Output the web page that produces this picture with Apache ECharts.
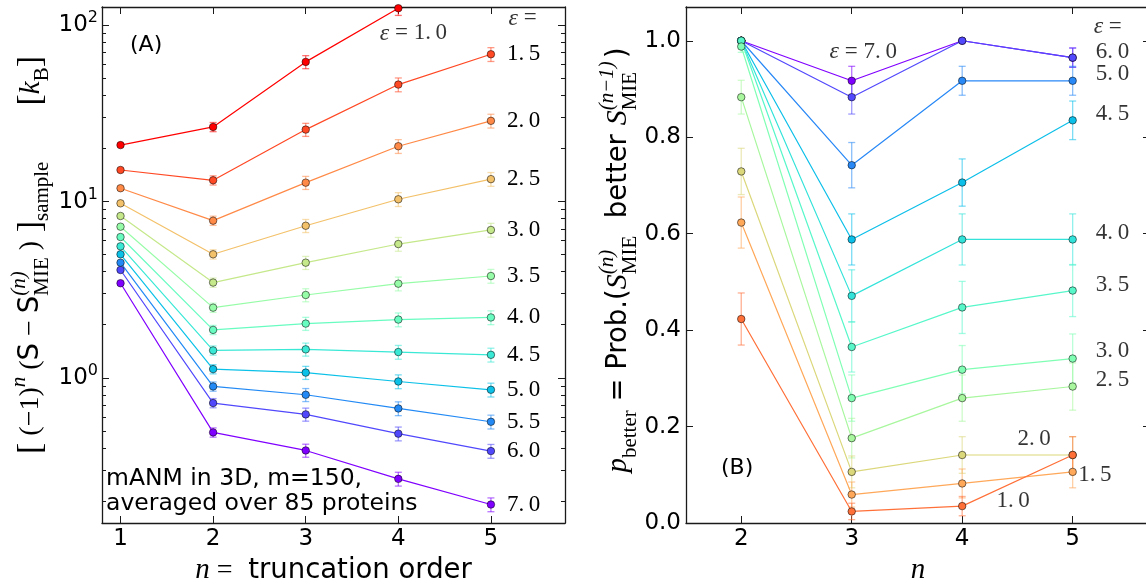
<!DOCTYPE html>
<html>
<head>
<meta charset="utf-8">
<title>mANM truncation order</title>
<script src="https://cdn.jsdelivr.net/npm/echarts@6.0.0/dist/echarts.min.js"></script>
<style>
    html, body { margin: 0; padding: 0; background: #fff; }
    #chart { width: 1146px; height: 586px; }
</style>
</head>
<body>
<div id="chart"></div>
<script>
// ---- (A) truncation order n, entropy difference in k_B (log axis)
var nA = [1, 2, 3, 4, 5];
var epsA = ['7.0', '6.0', '5.5', '5.0', '4.5', '4.0', '3.5', '3.0', '2.5', '2.0', '1.5', '1.0'];
var diffA_70 = [3.44, 0.490, 0.387, 0.267, 0.191];
var diffA_60 = [4.09, 0.719, 0.620, 0.482, 0.384];
var diffA_55 = [4.50, 0.893, 0.801, 0.670, 0.563];
var diffA_50 = [5.02, 1.12, 1.07, 0.953, 0.855];
var diffA_45 = [5.57, 1.43, 1.45, 1.40, 1.35];
var diffA_40 = [6.29, 1.87, 2.03, 2.14, 2.20];
var diffA_35 = [7.20, 2.50, 2.95, 3.42, 3.78];
var diffA_30 = [8.28, 3.47, 4.50, 5.74, 6.90];
var diffA_25 = [9.77, 5.02, 7.29, 10.3, 13.4];
var diffA_20 = [11.9, 7.79, 12.8, 20.6, 28.7];
var diffA_15 = [15.1, 13.2, 25.6, 46.1, 68.5];
var diffA_10 = [20.9, 26.5, 62.0, 125];
// relative error bar half-width for each n
var relErrA = [0.01, 0.06, 0.085, 0.09, 0.09];
var yTicksA = [1, 10, 100];

// ---- (B) probability that order n beats order n-1
var nB = [2, 3, 4, 5];
var epsB = ['7.0', '6.0', '5.0', '4.5', '4.0', '3.5', '3.0', '2.5', '2.0', '1.5', '1.0'];
var probB_70 = [1.0, 0.917, 1.0, 0.965];
var probB_60 = [1.0, 0.883, 1.0, 0.965];
var probB_50 = [1.0, 0.742, 0.917, 0.917];
var probB_45 = [1.0, 0.588, 0.706, 0.835];
var probB_40 = [1.0, 0.471, 0.588, 0.588];
var probB_35 = [1.0, 0.365, 0.447, 0.482];
var probB_30 = [0.988, 0.259, 0.318, 0.341];
var probB_25 = [0.883, 0.176, 0.259, 0.283];
var probB_20 = [0.729, 0.106, 0.141, 0.141];
var probB_15 = [0.623, 0.059, 0.082, 0.106];
var probB_10 = [0.423, 0.024, 0.035, 0.141];
var errB_70 = [0, 0.030, 0, 0.020];
var errB_60 = [0, 0.035, 0, 0.020];
var errB_50 = [0, 0.047, 0.030, 0.030];
var errB_45 = [0, 0.053, 0.049, 0.040];
var errB_40 = [0, 0.054, 0.053, 0.053];
var errB_35 = [0, 0.052, 0.054, 0.054];
var errB_30 = [0.012, 0.048, 0.050, 0.051];
var errB_25 = [0.035, 0.041, 0.048, 0.049];
var errB_20 = [0.048, 0.033, 0.038, 0.038];
var errB_15 = [0.053, 0.026, 0.030, 0.033];
var errB_10 = [0.054, 0.017, 0.020, 0.038];
var yTicksB = [0, 0.2, 0.4, 0.6, 0.8, 1.0];

var listA = [diffA_70, diffA_60, diffA_55, diffA_50, diffA_45, diffA_40, diffA_35, diffA_30, diffA_25, diffA_20, diffA_15, diffA_10];
var listB = [probB_70, probB_60, probB_50, probB_45, probB_40, probB_35, probB_30, probB_25, probB_20, probB_15, probB_10];
var listErrB = [errB_70, errB_60, errB_50, errB_45, errB_40, errB_35, errB_30, errB_25, errB_20, errB_15, errB_10];

// rainbow colours
var colorsA = ['#8000ff', '#5148fc', '#238af5', '#0cc1e8', '#3ae8d6', '#68fcc1', '#97fca7', '#c5e88a', '#f3c16a', '#ff8a48', '#ff4824', '#ff0000'];
var colorsB = ['#8000ff', '#5248fc', '#2888f6', '#0cbfe9', '#33e3da', '#57f7ca', '#80ffb4', '#a8f79e', '#dbd77b', '#ffa85a', '#ff7039'];

var SERIF = 'Liberation Serif';
var SANS = 'DejaVu Sans';
var INK = '#1a1a1a';

function dotted(s) {
    return s.replace('.', '.\u2009');
}

// text notes: [x, y, text]
var notesA = [
    [3.80, 90.2, '{e|ε}{r| = 1.\u20090}'],
    [5.19, 109.6, '{e|ε}{r| =}']
];
var notesB = [
    [2.80, 0.977, '{e|ε}{r| = 7.\u20090}'],
    [5.19, 1.029, '{e|ε}{r| =}'],
    [5.21, 0.977, '{r|' + dotted('6.0') + '}'],
    [5.21, 0.932, '{r|' + dotted('5.0') + '}'],
    [5.21, 0.849, '{r|' + dotted('4.5') + '}'],
    [5.21, 0.602, '{r|' + dotted('4.0') + '}'],
    [5.21, 0.494, '{r|' + dotted('3.5') + '}'],
    [5.21, 0.356, '{r|' + dotted('3.0') + '}'],
    [5.21, 0.296, '{r|' + dotted('2.5') + '}'],
    [4.50, 0.175, '{r|' + dotted('2.0') + '}'],
    [5.05, 0.100, '{r|' + dotted('1.5') + '}'],
    [4.31, 0.045, '{r|' + dotted('1.0') + '}']
];

var minorA = [];
[0.1, 1, 10].forEach(function (d) {
    for (var k = 2; k <= 9; k++) {
        minorA.push(+(k * d).toFixed(3));
    }
});

var noteRich = {
    e: { fontFamily: SERIF, fontStyle: 'italic', fontSize: 24, color: '#000' },
    r: { fontFamily: SERIF, fontSize: 23, color: '#000' }
};

var LH = 44;
var titleRich = {
    r: { fontFamily: SERIF, fontSize: 28, lineHeight: LH, align: 'left', color: '#000' },
    i: { fontFamily: SERIF, fontStyle: 'italic', fontSize: 29, lineHeight: LH, align: 'left', color: '#000' },
    is: { fontFamily: SERIF, fontStyle: 'italic', fontSize: 30, lineHeight: LH, align: 'left', color: '#000' },
    sf: { fontFamily: SANS, fontSize: 27.5, lineHeight: LH, align: 'left', color: '#000' },
    sfs: { fontFamily: SANS, fontSize: 28, lineHeight: LH, align: 'left', color: '#000' },
    br: { fontFamily: SERIF, fontSize: 34, lineHeight: LH, align: 'left', color: '#000' },
    sup: { fontFamily: SERIF, fontStyle: 'italic', fontSize: 21, lineHeight: 21, verticalAlign: 'top', align: 'left', color: '#000' },
    supz: { fontFamily: SERIF, fontStyle: 'italic', fontSize: 21, lineHeight: 21, verticalAlign: 'top', align: 'left', width: 0, color: '#000' },
    sub: { fontFamily: SERIF, fontSize: 21, lineHeight: 21, verticalAlign: 'bottom', align: 'left', color: '#000' },
    subw: { fontFamily: SERIF, fontSize: 21, lineHeight: 21, verticalAlign: 'bottom', align: 'left', width: 52, color: '#000' },
    gap: { fontSize: 10, lineHeight: LH, width: 56, align: 'left' }
};

function frameAxis(grid, pos, type, min, max, ticks, len, line) {
    return {
        gridIndex: grid,
        position: pos,
        type: type,
        min: min,
        max: max,
        logBase: 10,
        splitLine: { show: false },
        axisLine: { show: line, onZero: false, lineStyle: { color: INK, width: 1.3 } },
        axisTick: { show: true, inside: true, length: len, customValues: ticks, lineStyle: { color: INK, width: 1 } },
        axisLabel: { show: false },
        axisPointer: { show: false }
    };
}

// (A) axes
var xA = frameAxis(0, 'bottom', 'value', 0.8, 5.8, nA, 7, true);
xA.axisLabel = { show: true, customValues: nA, margin: 5, fontFamily: SANS, fontSize: 23, color: '#000' };
xA.name = '{i|n}{r| = }{sf| truncation order}';
xA.nameLocation = 'middle';
xA.nameGap = 25;
xA.nameTextStyle = { rich: titleRich };

var yA = frameAxis(0, 'left', 'log', 0.15, 127, yTicksA, 7, true);
yA.axisLabel = {
    show: true, customValues: yTicksA, margin: 4,
    formatter: function (v) {
        return '{b|10}{s|' + Math.round(Math.log(v) / Math.LN10) + '}';
    },
    rich: {
        b: { fontFamily: SANS, fontSize: 23, lineHeight: 30, color: '#000' },
        s: { fontFamily: SANS, fontSize: 16, lineHeight: 16, verticalAlign: 'top', color: '#000' }
    }
};
yA.name = '{br|[}{r| (−1)}{sup|n}{r| (}{sf|S}{r| − }{sf|S}{supz|(n)}{sub|MIE}{r| )}{br| ]}{sub|sample}{gap| }{br|[}{i|k}{sub|B}{br|]}';
yA.nameLocation = 'middle';
yA.nameRotate = 90;
yA.nameGap = 49;
yA.nameTextStyle = { rich: titleRich, padding: [0, 0, 0, 20] };

// (B) axes
var xB = frameAxis(1, 'bottom', 'value', 1.5, 5.7, nB, 7, true);
xB.axisLabel = { show: true, customValues: nB, margin: 5, fontFamily: SANS, fontSize: 23, color: '#000' };
xB.name = '{i|n}';
xB.nameLocation = 'middle';
xB.nameGap = 25;
xB.nameTextStyle = { rich: titleRich };

var yB = frameAxis(1, 'left', 'value', 0, 1.07, yTicksB, 7, true);
yB.axisLabel = {
    show: true, customValues: yTicksB, margin: 5, fontFamily: SANS, fontSize: 23, color: '#000',
    formatter: function (v) { return v.toFixed(1); }
};
yB.name = '{i|p}{sub|better}{sf| = Prob.(}{is|S}{supz|(n)}{sub|MIE}{sf|  better }{is|S}{supz|(n−1)}{subw|MIE}{sfs|)}';
yB.nameLocation = 'middle';
yB.nameRotate = 90;
yB.nameGap = 44;
yB.nameTextStyle = { rich: titleRich, padding: [0, 0, 0, 10] };

var xAxes = [xA, frameAxis(0, 'top', 'value', 0.8, 5.8, nA, 7, true),
             xB, frameAxis(1, 'top', 'value', 1.5, 5.7, nB, 7, true)];
var yAxes = [yA,
             frameAxis(0, 'left', 'log', 0.15, 127, minorA, 4, false),
             frameAxis(0, 'right', 'log', 0.15, 127, yTicksA, 7, true),
             frameAxis(0, 'right', 'log', 0.15, 127, minorA, 4, false),
             yB,
             frameAxis(1, 'right', 'value', 0, 1.07, yTicksB, 7, true)];

//误差线
function renderErr(params, api) {
    var x = api.value(0);
    var lo = api.value(1), hi = api.value(2);
    if (!(hi - lo > 0)) {
        return null;
    }
    var top = api.coord([x, hi]);
    var bot = api.coord([x, lo]);
    var st = { stroke: api.visual('color'), lineWidth: 1.3, opacity: 0.55 };
    return {
        type: 'group',
        children: [
            { type: 'line', shape: { x1: top[0], y1: top[1], x2: bot[0], y2: bot[1] }, style: st },
            { type: 'line', shape: { x1: top[0] - 3.5, y1: top[1], x2: top[0] + 3.5, y2: top[1] }, style: st },
            { type: 'line', shape: { x1: bot[0] - 3.5, y1: bot[1], x2: bot[0] + 3.5, y2: bot[1] }, style: st }
        ]
    };
}

function errSeries(xi, yi, color, rows) {
    return {
        type: 'custom', xAxisIndex: xi, yAxisIndex: yi, clip: true, silent: true,
        itemStyle: { color: color },
        encode: { x: 0, y: [1, 2] },
        renderItem: renderErr,
        data: rows,
        z: 2
    };
}

function lineSeries(xi, yi, color, pts, name, endLabel) {
    return {
        type: 'line', name: name, xAxisIndex: xi, yAxisIndex: yi, clip: true, silent: true,
        data: pts,
        symbol: 'circle', symbolSize: 7.5,
        lineStyle: { color: color, width: 1.2 },
        itemStyle: { color: color, borderColor: 'rgba(0,0,0,0.65)', borderWidth: 0.8 },
        emphasis: { disabled: true },
        endLabel: {
            show: endLabel, distance: 16,
            formatter: function () { return dotted(name); },
            fontFamily: SERIF, fontSize: 23, color: '#000'
        },
        z: 3
    };
}

function noteSeries(xi, yi, notes) {
    return {
        type: 'scatter', xAxisIndex: xi, yAxisIndex: yi, silent: true,
        symbolSize: 0,
        data: notes.map(function (t) {
            return { value: [t[0], t[1]], label: { formatter: t[2] } };
        }),
        label: { show: true, position: 'right', distance: 0, rich: noteRich },
        z: 5
    };
}

var series = [];
epsA.forEach(function (eps, i) {
    var vals = listA[i];
    series.push(errSeries(0, 0, colorsA[i], vals.map(function (v, k) {
        return [nA[k], v * (1 - relErrA[k]), v * (1 + relErrA[k])];
    })));
    series.push(lineSeries(0, 0, colorsA[i], vals.map(function (v, k) {
        return [nA[k], v];
    }), eps, eps !== '1.0'));
});
epsB.forEach(function (eps, i) {
    var vals = listB[i], errs = listErrB[i];
    series.push(errSeries(2, 4, colorsB[i], vals.map(function (v, k) {
        return [nB[k], v - errs[k], v + errs[k]];
    })));
    series.push(lineSeries(2, 4, colorsB[i], vals.map(function (v, k) {
        return [nB[k], v];
    }), eps, false));
});
series.push(noteSeries(0, 0, notesA));
series.push(noteSeries(2, 4, notesB));

var chart = echarts.init(document.getElementById('chart'));
chart.setOption({
    animation: false,
    backgroundColor: '#fff',
    textStyle: { fontFamily: SANS },
    grid: [
        { left: 102, top: 7, width: 463, height: 516, outerBoundsMode: 'none', containLabel: false },
        { left: 686, top: 7, width: 464, height: 516, outerBoundsMode: 'none', containLabel: false }
    ],
    xAxis: xAxes,
    yAxis: yAxes,
    graphic: [
        { type: 'text', x: 130, y: 45, silent: true,
          style: { text: '(A)', font: '22px "DejaVu Sans"', fill: '#000', verticalAlign: 'middle' } },
        { type: 'text', x: 106, y: 466, silent: true,
          style: { text: 'mANM in 3D, m=150,\naveraged over 85 proteins', font: '23.5px "DejaVu Sans"', lineHeight: 25, fill: '#000', verticalAlign: 'top' } },
        { type: 'text', x: 721, y: 468, silent: true,
          style: { text: '(B)', font: '22px "DejaVu Sans"', fill: '#000', verticalAlign: 'middle' } }
    ],
    series: series
});
</script>
</body>
</html>
